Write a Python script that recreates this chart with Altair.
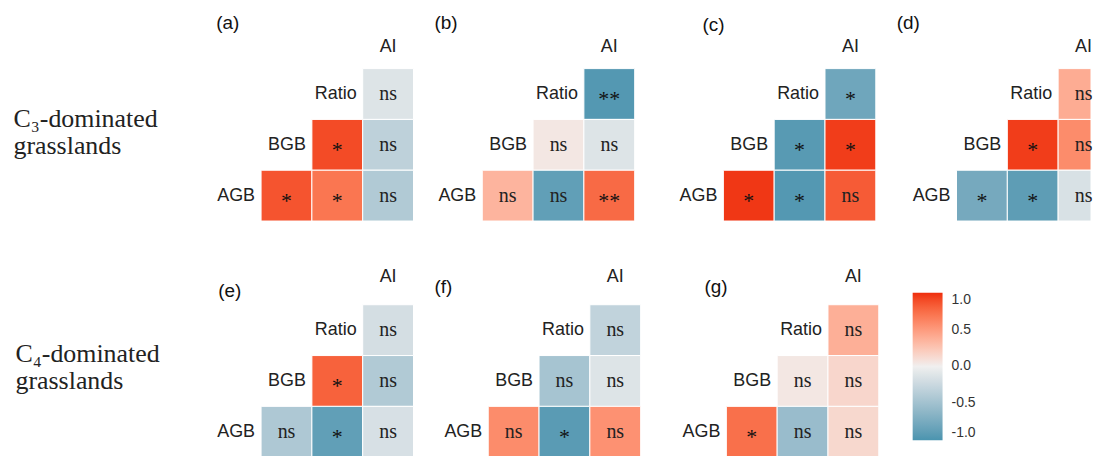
import altair as alt
import pandas as pd

# ---------------- data ----------------
panel_letters = ["(a)", "(b)", "(c)", "(d)", "(e)", "(f)", "(g)"]
row_vars = ["Ratio", "BGB", "BGB", "AGB", "AGB", "AGB"]
col_vars = ["AI", "Ratio", "AI", "BGB", "Ratio", "AI"]
x_order = ["AGB", "BGB", "Ratio", "AI"]
y_order = ["AI", "Ratio", "BGB", "AGB"]

r_a = [-0.12, 0.90, -0.32, 0.86, 0.70, -0.40]
r_b = [-0.95, 0.05, -0.12, 0.35, -0.88, 0.76]
r_c = [-0.80, -0.93, 0.95, 0.97, -0.95, 0.83]
r_d = [0.40, 0.95, 0.58, -0.76, -0.90, -0.15]
r_e = [-0.18, 0.80, -0.40, -0.42, -0.88, -0.16]
r_f = [-0.30, -0.47, -0.12, 0.58, -0.92, 0.55]
r_g = [0.38, 0.05, 0.15, 0.73, -0.55, 0.14]

sig_a = ["ns", "*", "ns", "*", "*", "ns"]
sig_b = ["**", "ns", "ns", "ns", "ns", "**"]
sig_c = ["*", "*", "*", "*", "*", "ns"]
sig_d = ["ns", "*", "ns", "*", "*", "ns"]
sig_e = ["ns", "*", "ns", "ns", "*", "ns"]
sig_f = ["ns", "ns", "ns", "ns", "*", "ns"]
sig_g = ["ns", "ns", "ns", "*", "ns", "ns"]

group_labels = [["C₃-dominated", "grasslands"], ["C₄-dominated", "grasslands"]]
legend_values = [-1.0, -0.5, 0.0, 0.5, 1.0]

# ---------------- styling ----------------
CELL = 51
LOW, MID, HIGH = "#4A94AF", "#F0EFEF", "#EF2D0C"
SANS = "Liberation Sans"
SERIF = "Liberation Serif"

cscale = alt.Scale(domain=[-1, 0, 1], range=[LOW, MID, HIGH], interpolate="lab")
legend = alt.Legend(
    orient="none", legendX=705, legendY=279, direction="vertical",
    gradientLength=148, gradientThickness=30, title=None,
    values=legend_values, format=".1f",
    labelExpr="replace(datum.label, '\u2212', '-')",
    labelFontSize=14, labelColor="#333",
    labelFont=SANS, labelOffset=9, gradientStrokeWidth=0,
)


def cell_df(r, s):
    df = pd.DataFrame({"row": row_vars, "col": col_vars, "r": r, "sig": s})
    df["xi"] = df["col"].map(x_order.index)
    df["yi"] = df["row"].map(y_order.index)
    df["xi2"] = df["xi"] + 1
    df["yi2"] = df["yi"] + 1
    df["xc"] = df["xi"] + 0.5
    df["yc"] = df["yi"] + 0.5
    df["kind"] = ["star" if "*" in v else "ns" for v in s]
    return df


diag = pd.DataFrame({"var": x_order})
diag["xe"] = diag["var"].map(x_order.index) + 1
diag["xc"] = diag["var"].map(x_order.index) + 0.5
diag["yc"] = diag["var"].map(y_order.index) + 0.5


def make_panel(r, s, letter, ext_x, y_top, height, ai_dy, lx, ly,
               ylab=None, yt_x=0, yt_y=0, cut_right=0):
    df = cell_df(r, s)
    width = 4 * CELL + ext_x - cut_right
    xs = alt.Scale(domain=[-ext_x / CELL, 4 - cut_right / CELL], nice=False,
                   zero=False, clamp=True)
    ys = alt.Scale(domain=[y_top, 4], nice=False, zero=False, reverse=True)
    if ylab is not None:
        yaxis = alt.Axis(
            title=ylab, labels=False, ticks=False, domain=False, grid=False,
            titleAngle=0, titleAlign="left", titleBaseline="alphabetic",
            titleX=yt_x, titleY=yt_y, titleFont=SERIF, titleFontSize=26,
            titleFontWeight="normal", titleColor="#222", titleLineHeight=27,
        )
    else:
        yaxis = None
    base = alt.Chart(df)
    cells = base.mark_rect(stroke="white", strokeWidth=1).encode(
        x=alt.X("xi:Q", scale=xs, axis=None),
        x2="xi2:Q",
        y=alt.Y("yi:Q", scale=ys, axis=yaxis),
        y2="yi2:Q",
        color=alt.Color("r:Q", scale=cscale, legend=legend),
    )
    ns_txt = base.transform_filter(alt.datum.kind == "ns").mark_text(
        font=SERIF, fontSize=20, color="#222", baseline="middle", align="center"
    ).encode(x=alt.X("xc:Q", axis=None), y=alt.Y("yc:Q", axis=None), text="sig:N")
    star_txt = base.transform_filter(alt.datum.kind == "star").mark_text(
        font=SERIF, fontSize=22, color="#111", baseline="middle", align="center", dy=5
    ).encode(x=alt.X("xc:Q", axis=None), y=alt.Y("yc:Q", axis=None), text="sig:N")
    dbase = alt.Chart(diag)
    lab_r = dbase.transform_filter(alt.datum["var"] != "AI").mark_text(
        font=SANS, fontSize=18, color="#222", align="right", baseline="middle", dx=-6
    ).encode(x=alt.X("xe:Q", axis=None), y=alt.Y("yc:Q", axis=None), text="var:N")
    lab_ai = dbase.transform_filter(alt.datum["var"] == "AI").mark_text(
        font=SANS, fontSize=18, color="#222", align="center", baseline="middle", dy=ai_dy
    ).encode(x=alt.X("xc:Q", axis=None), y=alt.Y("yc:Q", axis=None), text="var:N")
    tag = alt.Chart(pd.DataFrame({"letter": [letter]})).mark_text(
        font=SANS, fontSize=19, color="#111", align="left", baseline="middle"
    ).encode(x=alt.value(lx), y=alt.value(ly), text="letter:N")
    return (
        alt.layer(cells, ns_txt, star_txt, lab_r, lab_ai, tag)
        .resolve_axis(y="independent")
        .properties(width=width, height=height)
    )


top_ext = -3 / CELL
row1 = alt.hconcat(
    make_panel(r_a, sig_a, panel_letters[0], 0, top_ext, 207, 4, 6, 8.5,
               ylab=group_labels[0], yt_x=-198, yt_y=112),
    make_panel(r_b, sig_b, panel_letters[1], 0, top_ext, 207, 4, 3, 8.5),
    make_panel(r_c, sig_c, panel_letters[2], 20, top_ext, 207, 4, 50, 10),
    make_panel(r_d, sig_d, panel_letters[3], 12, top_ext, 207, 4, 3, 8.5,
               cut_right=18),
    spacing=17,
)
row2 = alt.hconcat(
    make_panel(r_e, sig_e, panel_letters[4], 0, 0, 204, -2.5, 8, 37,
               ylab=group_labels[1], yt_x=-196, yt_y=108),
    make_panel(r_f, sig_f, panel_letters[5], 6, 0, 204, -2.5, 3, 33),
    make_panel(r_g, sig_g, panel_letters[6], 17, 0, 204, -2.5, 46, 33),
    spacing=17,
)

chart = (
    alt.vconcat(row1, row2, spacing=32)
    .properties(padding={"left": 5, "top": 5, "right": 0, "bottom": 0})
    .configure_view(strokeWidth=0)
)

chart.save("out.html", embed_options={"renderer": "svg", "actions": False})
